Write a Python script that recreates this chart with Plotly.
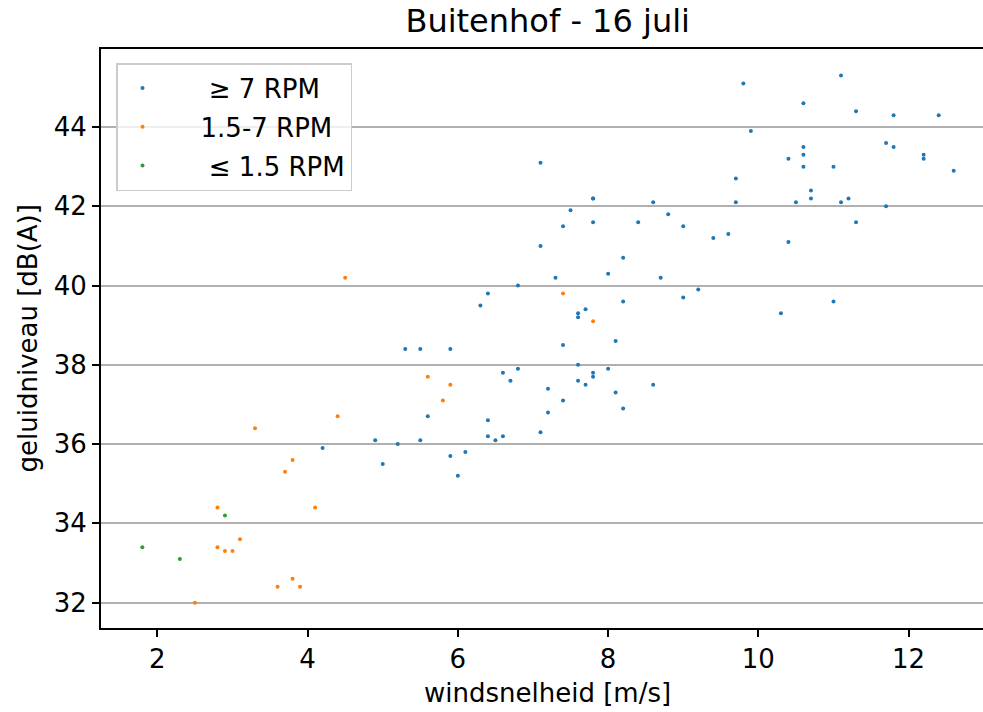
import plotly.graph_objects as go

# windsnelheid [m/s] and geluidniveau [dB(A)] per RPM class
high_x = [4.9, 5.2, 4.2, 5.0,
          7.1, 8.2, 7.3, 8.0, 8.7, 6.8, 6.4, 6.3, 8.2, 9.0, 7.7, 7.6, 7.6, 8.1, 7.4, 5.3, 5.5, 5.9,
          7.6, 6.8, 8.0, 6.6, 7.8, 7.8, 6.7, 7.6, 7.7, 8.6, 7.2, 8.1, 7.4, 8.2, 7.2, 5.6, 6.4,
          7.1, 6.4, 6.5, 6.6, 5.5, 5.9, 6.1, 6.0,
          9.8, 9.9, 7.1, 9.7, 7.8, 7.8, 8.6, 9.7, 7.5, 8.8, 7.4, 7.8, 8.4, 9.0, 9.4, 9.6,
          11.1, 10.6, 11.3, 11.8, 12.4, 11.7, 11.8, 10.6, 10.6, 10.4, 12.2, 12.2, 10.6, 11.0, 12.6,
          10.7, 10.7, 11.2, 11.1, 10.5, 11.7, 11.3, 10.4,
          9.2, 11.0, 10.3]
high_y = [36.1, 36.0, 35.9, 35.5,
          41.0, 40.7, 40.2, 40.3, 40.2, 40.0, 39.8, 39.5, 39.6, 39.7, 39.4, 39.3, 39.2, 38.6, 38.5, 38.4, 38.4, 38.4,
          38.0, 37.9, 37.9, 37.8, 37.8, 37.7, 37.6, 37.6, 37.5, 37.5, 37.4, 37.3, 37.1, 36.9, 36.8, 36.7, 36.6,
          36.3, 36.2, 36.1, 36.2, 36.1, 35.7, 35.8, 35.2,
          45.1, 43.9, 43.1, 42.7, 42.2, 42.2, 42.1, 42.1, 41.9, 41.8, 41.5, 41.6, 41.6, 41.5, 41.2, 41.3,
          45.3, 44.6, 44.4, 44.3, 44.3, 43.6, 43.5, 43.5, 43.3, 43.2, 43.3, 43.2, 43.0, 43.0, 42.9,
          42.4, 42.2, 42.2, 42.1, 42.1, 42.0, 41.6, 41.1,
          39.9, 39.6, 39.3]

mid_x = [4.5, 4.4, 3.3, 3.8, 3.7, 2.8, 4.1, 2.8, 2.9, 3.0, 3.1, 2.5, 3.6, 3.8, 3.9,
         7.4, 7.8, 5.6, 5.9, 5.8]
mid_y = [40.2, 36.7, 36.4, 35.6, 35.3, 34.4, 34.4, 33.4, 33.3, 33.3, 33.6, 32.0, 32.4, 32.6, 32.4,
         39.8, 39.1, 37.7, 37.5, 37.1]

low_x = [1.8, 2.3, 2.9]
low_y = [33.4, 33.1, 34.2]

labels = ["     \u2265 7 RPM", "    1.5-7 RPM", "     \u2264 1.5 RPM"]
colors = ["#1f77b4", "#ff7f0e", "#2ca02c"]

x_ticks = [2, 4, 6, 8, 10, 12]
y_ticks = [32, 34, 36, 38, 40, 42, 44]

FONT = "DejaVu Sans"
L, R, T, B = 101, 0, 49, 84
W, H = 983, 712
PW, PH = W - L - R, H - T - B

fig = go.Figure()
for i, (xs, ys, lab, col) in enumerate(zip([high_x, mid_x, low_x], [high_y, mid_y, low_y], labels, colors)):
    fig.add_trace(go.Scatter(x=xs, y=ys, mode="markers", name=lab, legendgroup=f"g{i}",
                             marker=dict(color=col, size=4, line=dict(width=0))))

fig.update_layout(
    width=W, height=H,
    margin=dict(l=L, r=R, t=T, b=B),
    paper_bgcolor="white", plot_bgcolor="white",
    font=dict(family=FONT, size=26, color="black"),
    title=dict(text="Buitenhof - 16 juli", x=547.7 / W, xanchor="center",
               y=1 - 21 / H, yanchor="middle", yref="container",
               font=dict(family=FONT, size=32, color="black")),
    legend=dict(x=(116 - L) / PW, y=1 - (63 - T) / PH, xanchor="left", yanchor="top",
                bgcolor="rgba(255,255,255,0.8)", bordercolor="#cccccc", borderwidth=1.5,
                font=dict(family=FONT, size=26, color="black"),
                itemwidth=40, tracegroupgap=2),
    showlegend=True,
    annotations=[
        dict(text="windsnelheid [m/s]", xref="paper", yref="paper",
             x=(547.7 - L) / PW, y=-(693 - (T + PH)) / PH, xanchor="center", yanchor="middle",
             showarrow=False, font=dict(family=FONT, size=26, color="black")),
        dict(text="geluidniveau [dB(A)]", xref="paper", yref="paper",
             x=(27 - L) / PW, y=0.5, xanchor="center", yanchor="middle", textangle=-90,
             showarrow=False, font=dict(family=FONT, size=26, color="black")),
    ],
)

fig.update_xaxes(range=[1.25, 12.99], tickvals=x_ticks, ticktext=[str(v) for v in x_ticks],
                 showgrid=False, zeroline=False, automargin=False,
                 showline=True, linecolor="black", linewidth=2, mirror=True,
                 ticks="outside", ticklen=7, tickwidth=2, tickcolor="black",
                 tickfont=dict(family=FONT, size=26))
fig.update_yaxes(range=[31.36, 45.97], tickvals=y_ticks, ticktext=[str(v) for v in y_ticks],
                 showgrid=True, gridcolor="#b0b0b0", gridwidth=1.5, zeroline=False, automargin=False,
                 showline=True, linecolor="black", linewidth=2, mirror=False,
                 ticks="outside", ticklen=7, tickwidth=2, tickcolor="black",
                 tickfont=dict(family=FONT, size=26))

fig.write_html("out.html", config={"displayModeBar": False},
               post_script="document.body.style.margin='0';document.body.style.overflow='hidden';")
